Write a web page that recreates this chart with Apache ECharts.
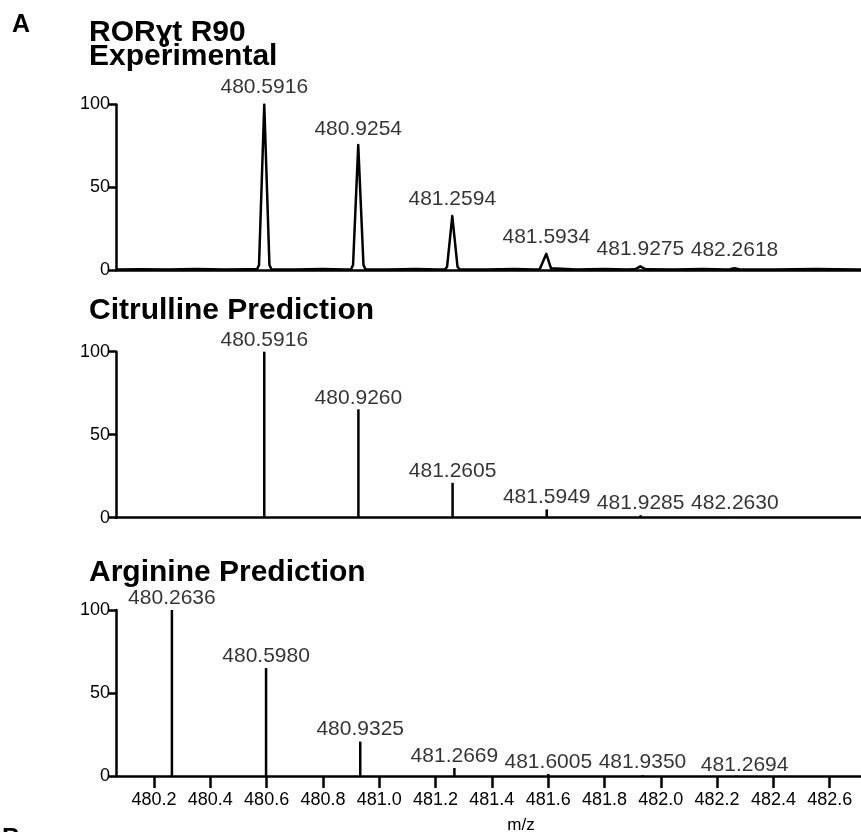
<!DOCTYPE html>
<html>
<head>
<meta charset="utf-8">
<script src="https://cdn.jsdelivr.net/npm/echarts@6/dist/echarts.min.js"></script>
<style>
  html, body { margin: 0; padding: 0; background: #fff; }
  #chart { width: 861px; height: 832px; }
</style>
</head>
<body>
<div id="chart"></div>
<script>
// ---- data ----
// m/z tick values on the shared bottom axis
const mzTicks = [480.2, 480.4, 480.6, 480.8, 481.0, 481.2, 481.4, 481.6, 481.8, 482.0, 482.2, 482.4, 482.6, 482.8];
const intensityTicks = [0, 50, 100];

// measured isotope envelope (profile mode), [m/z, relative intensity]
const expProfile = [
  [480.065, 0.3], [480.15, 0.5], [480.25, 0.3], [480.35, 0.6], [480.45, 0.3], [480.53, 0.5],
  [480.566, 0.4], [480.573, 3], [480.5916, 100], [480.610, 3], [480.617, 0.4],
  [480.70, 0.3], [480.80, 0.6], [480.88, 0.3],
  [480.900, 0.4], [480.907, 3], [480.9254, 75.5], [480.944, 3], [480.951, 0.4],
  [481.03, 0.3], [481.13, 0.6], [481.21, 0.3],
  [481.234, 0.4], [481.241, 2], [481.2594, 32.6], [481.278, 2], [481.285, 0.4],
  [481.38, 0.3], [481.48, 0.6], [481.55, 0.3],
  [481.570, 0.4], [481.577, 1], [481.5934, 9.8], [481.610, 1], [481.617, 0.4],
  [481.70, 0.3], [481.80, 0.6], [481.88, 0.3],
  [481.905, 0.4], [481.915, 1], [481.9275, 2.2], [481.940, 1], [481.950, 0.4],
  [482.05, 0.3], [482.15, 0.6], [482.23, 0.3],
  [482.245, 0.4], [482.2618, 1.0], [482.278, 0.4],
  [482.40, 0.3], [482.55, 0.6], [482.70, 0.3], [482.942, 0.4]
];
const expPeakMz = [480.5916, 480.9254, 481.2594, 481.5934, 481.9275, 482.2618];
const expPeakText = ['480.5916', '480.9254', '481.2594', '481.5934', '481.9275', '482.2618'];

// predicted isotope distribution, citrulline form
const citMz = [480.5916, 480.9260, 481.2605, 481.5949, 481.9285, 482.2630];
const citIntensity = [100, 65.3, 21, 5, 1.5, 0.5];
const citText = ['480.5916', '480.9260', '481.2605', '481.5949', '481.9285', '482.2630'];

// predicted isotope distribution, arginine form
const argMz = [480.2636, 480.5980, 480.9325, 481.2669, 481.6005, 481.9350, 482.2694];
const argIntensity = [100, 65, 20.7, 4.8, 1.2, 0.5, 0.2];
const argText = ['480.2636', '480.5980', '480.9325', '481.2669', '481.6005', '481.9350', '481.2694'];

// ---- layout ----
const FONT = "'Liberation Sans', Arial, Helvetica, sans-serif";
const MZ_MIN = 480.065, MZ_MAX = 482.942;
const gridBase = { left: 116, width: 810, outerBoundsMode: 'none', containLabel: false };
const grids = [
  Object.assign({ top: 104.5, height: 165.5 }, gridBase),
  Object.assign({ top: 351.7, height: 166 }, gridBase),
  Object.assign({ top: 610, height: 166 }, gridBase)
];
// heights (in intensity units) at which each peak annotation is centred
const expLabelLevel = [110.6, 85.2, 42.9, 19.6, 12.3, 11.8];
const citLabelLevel = [106.9, 71.9, 28, 12.2, 8.9, 8.9];
const argLabelLevel = [107, 72, 28.3, 12.2, 8.1, 8.1, 6.6];
const argLabelShift = [0, 0, 0, 0, 0, 0, 8];

const AXIS_W = 2.5;

function xAxisFor(i) {
  const bottom = i === 2;
  return {
    type: 'value', gridIndex: i, min: MZ_MIN, max: MZ_MAX,
    axisLine: { show: true, onZero: false, lineStyle: { color: '#000', width: AXIS_W } },
    axisTick: { show: bottom, customValues: mzTicks, length: 12, lineStyle: { color: '#000', width: AXIS_W } },
    axisLabel: {
      show: bottom, customValues: mzTicks, margin: 15, fontSize: 18, color: '#000', fontFamily: FONT,
      formatter: v => v.toFixed(1)
    },
    splitLine: { show: false },
    name: bottom ? 'm/z' : '',
    nameLocation: 'middle', nameGap: 41,
    nameTextStyle: { fontSize: 17, color: '#000', fontFamily: FONT }
  };
}

function yAxisFor(i) {
  return {
    type: 'value', gridIndex: i, min: 0, max: 100, interval: 50,
    axisLine: { show: true, lineStyle: { color: '#000', width: AXIS_W } },
    axisTick: { show: true, length: 8, lineStyle: { color: '#000', width: AXIS_W } },
    axisLabel: { show: true, margin: 6, fontSize: 18, color: '#000', fontFamily: FONT,
      customValues: intensityTicks },
    splitLine: { show: false }
  };
}

function labelSeries(i, mz, level, text, shift) {
  return {
    type: 'scatter', xAxisIndex: i, yAxisIndex: i, clip: false, silent: true,
    symbolSize: 1, itemStyle: { color: 'rgba(0,0,0,0)' }, z: 5,
    data: mz.map((m, k) => ({
      value: [m, level[k]],
      label: { offset: [shift ? shift[k] : 0, 0] }
    })),
    label: {
      show: true, position: 'inside', fontSize: 21, color: '#000', fontFamily: FONT,
      textBorderWidth: 0, formatter: p => text[p.dataIndex]
    }
  };
}

function stickSeries(i, mz, inten) {
  return {
    type: 'bar', xAxisIndex: i, yAxisIndex: i, barWidth: 2.5, z: 3,
    itemStyle: { color: '#000' },
    data: mz.map((m, k) => [m, inten[k]])
  };
}

function heading(text, x, y, size) {
  return {
    type: 'text', x: x, y: y, silent: true,
    style: {
      text: text, fill: '#000',
      font: 'bold ' + size + 'px ' + FONT,
      textAlign: 'left', textVerticalAlign: 'middle',
      align: 'left', verticalAlign: 'middle'
    }
  };
}

const chart = echarts.init(document.getElementById('chart'), null, { renderer: 'canvas' });
chart.setOption({
  animation: false,
  backgroundColor: '#fff',
  textStyle: { fontFamily: FONT },
  grid: grids,
  xAxis: [0, 1, 2].map(xAxisFor),
  yAxis: [0, 1, 2].map(yAxisFor),
  series: [
    {
      type: 'line', xAxisIndex: 0, yAxisIndex: 0, data: expProfile,
      symbol: 'none', z: 3,
      lineStyle: { color: '#000', width: 2.5, join: 'round' }
    },
    stickSeries(1, citMz, citIntensity),
    stickSeries(2, argMz, argIntensity),
    labelSeries(0, expPeakMz, expLabelLevel, expPeakText),
    labelSeries(1, citMz, citLabelLevel, citText),
    labelSeries(2, argMz, argLabelLevel, argText, argLabelShift)
  ],
  graphic: [
    heading('A', 12, 25, 25),
    heading('RORɣt R90', 89, 33, 30),
    heading('Experimental', 89, 57, 30),
    heading('Citrulline Prediction', 89, 311, 30),
    heading('Arginine Prediction', 89, 573, 30),
    heading('B', 2, 839, 25)
  ]
});
</script>
</body>
</html>
